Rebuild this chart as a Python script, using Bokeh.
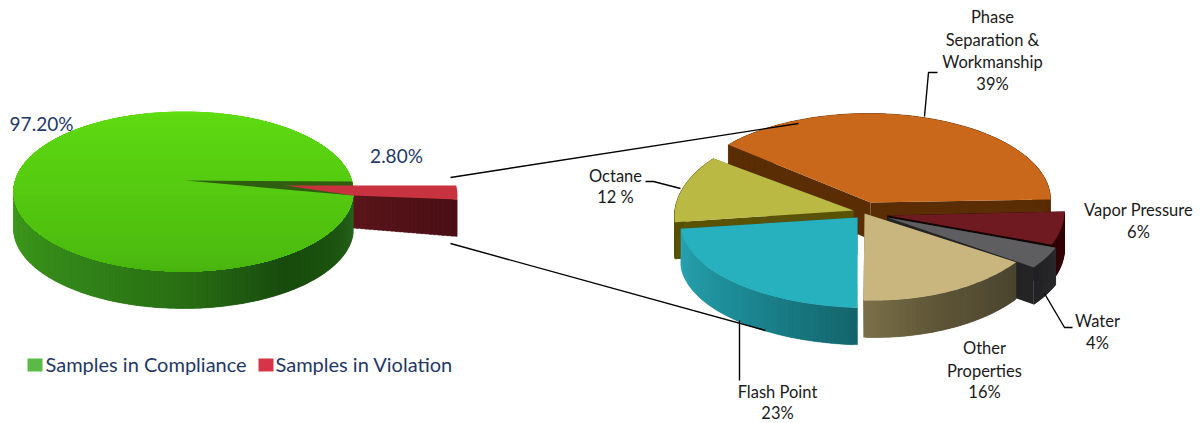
import numpy as np
from bokeh.plotting import figure
from bokeh.models import Range1d
from bokeh.core.properties import value
from bokeh.embed import file_html
from bokeh.resources import INLINE

# ---- data
overview_names = ["Samples in Compliance", "Samples in Violation"]
overview_share = [97.2, 2.8]
overview_labels = ["97.20%", "2.80%"]

detail_names = ["Phase Separation & Workmanship", "Vapor Pressure", "Water",
                "Other Properties", "Flash Point", "Octane"]
detail_share = [39, 6, 4, 16, 23, 12]

# ---- page coordinates: one data unit = one screenshot pixel
W, H = 1201, 423
p = figure(width=W, height=H, x_range=Range1d(0, W), y_range=Range1d(H, 0),
           x_axis_type=None, y_axis_type=None, toolbar_location=None,
           output_backend="svg", min_border=0, outline_line_color=None,
           background_fill_color="white", border_fill_color="white")
p.grid.visible = False
DEPTH = 37


def hex2rgb(c):
    return np.array([int(c[i:i + 2], 16) for i in (1, 3, 5)], float)


def ramp(stops, t):
    pos = [s[0] for s in stops]
    cols = np.array([hex2rgb(s[1]) for s in stops])
    v = [np.interp(t, pos, cols[:, k]) for k in range(3)]
    return "#%02x%02x%02x" % tuple(int(round(x)) for x in v)


def arc(g, a0, a1, n=60):
    t = np.radians(np.linspace(a0, a1, n))
    return g["c"][0] + g["r"][0] * np.cos(t), g["c"][1] - g["r"][1] * np.sin(t)


def poly(xs, ys, color, alpha=1.0):
    p.patch(list(xs), list(ys), fill_color=color, line_color=None, fill_alpha=alpha)


def wall(g, a0, a1, stops, n=40):
    """Outer rim of a slice, in short overlapping strips for the shading."""
    x, y = arc(g, a0, a1, n + 2)
    xs, ys, cs = [], [], []
    for i in range(n):
        xx, yy = x[i:i + 3], y[i:i + 3]
        xs.append(list(xx) + list(xx[::-1]))
        ys.append(list(yy) + list((yy + DEPTH)[::-1]))
        cs.append(ramp(stops, i / (n - 1)))
    p.patches(xs, ys, fill_color=cs, line_color=cs, line_width=0.3)


def cut_face(g, a, color):
    x, y = arc(g, a, a, 1)
    ax, ay = g["a"]
    poly([ax, x[0], x[0], ax], [ay, y[0], y[0] + DEPTH, ay + DEPTH], color)


# ---- overview pie
GREEN = {"a": (185, 180), "c": (183, 191), "r": (170, 80)}
RED = {"a": (285, 185), "c": (287, 195), "r": (170, 80)}
red_sweep = overview_share[1] * 3.6
red_hi = 7.2
red_lo = red_hi - red_sweep

# the pulled-out slice's cut face, behind the big slice
cut_x, cut_y = arc(RED, red_lo, red_lo, 1)
rx_, ry_ = RED["a"]
xs_, ys_, cs_ = [], [], []
for i in range(40):
    f0, f1 = 1 - (i + 1.6) / 40, 1 - i / 40
    x0, x1 = rx_ + (cut_x[0] - rx_) * max(f0, 0), rx_ + (cut_x[0] - rx_) * f1
    y0, y1 = ry_ + (cut_y[0] - ry_) * max(f0, 0), ry_ + (cut_y[0] - ry_) * f1
    xs_.append([x0, x1, x1, x0])
    ys_.append([y0, y1, y1 + DEPTH, y0 + DEPTH])
    cs_.append(ramp([(0, "#4a0f15"), (0.5, "#561419"), (1, "#6b1c24")], i / 39))
p.patches(xs_, ys_, fill_color=cs_, line_color=cs_, line_width=0.3)

wall(GREEN, 180, 360 + red_lo,
     [(0, "#409c1a"), (0.28, "#33861a"), (0.5, "#2a7014"),
      (0.72, "#184b0e"), (0.88, "#1d5510"), (1, "#2a6620")], n=140)

bands = 48
for k in range(bands):
    a_k = 90 - 180 * k / bands
    x, y = arc(GREEN, a_k, -180 - a_k, 120)
    poly(x, y, ramp([(0, "#60e012"), (0.45, "#56cc10"), (1, "#47b20e")], k / (bands - 1)))

# dark notch where the small slice was pulled away
x, y = arc(GREEN, red_hi, red_lo, 8)
poly([GREEN["a"][0], *x], [GREEN["a"][1], *y], "#2f5e10")

# top of pulled-out slice: it runs back to the big slice's lower cut corner
x, y = arc(RED, red_hi, red_lo, 6)
poly([rx_, *x, arc(GREEN, red_lo, red_lo, 1)[0][0]],
     [ry_, *y, arc(GREEN, red_lo, red_lo, 1)[1][0]], "#c9323f")

# ---- detail pie
angles = np.concatenate([[0.0], -np.cumsum(detail_share[1:]) * 3.6])
sl = {
    "Phase Separation & Workmanship": dict(a=(870, 202), c=(868, 199), r=(182, 86),
                                           span=(angles[-1] + 360, 0), top="#c9681a",
                                           wall=[(0, "#5a2d04"), (1, "#5a2d04")], face="#5a2d04"),
    "Vapor Pressure": dict(a=(887, 215), c=(882, 211), r=(182, 90), span=(angles[0], angles[1]),
                           top="#6e1a20", wall=[(0, "#3d060c"), (1, "#300408")], face="#120406"),
    "Water": dict(a=(887, 217), c=(886, 214), r=(182, 90), span=(angles[1], angles[2]),
                  top="#5e5e60", wall=[(0, "#2e2e30"), (1, "#242426")], face="#242424"),
    "Other Properties": dict(a=(864, 213), c=(874, 207), r=(175, 93), span=(angles[2], angles[3]),
                             top="#c9b67f", wall=[(0, "#4b4530"), (0.6, "#5f5638"), (1, "#7a6e48")],
                             face="#3a3524"),
    "Flash Point": dict(a=(857, 217), c=(869, 223), r=(189, 84.5), span=(angles[3], angles[4]),
                        top="#27b0bd", wall=[(0, "#14656d"), (0.5, "#1d8b95"), (1, "#2ba5b3")],
                        face="#116068"),
    "Octane": dict(a=(853, 210), c=(844, 216), r=(170, 91), span=(angles[4], angles[5]),
                   top="#b9b944", wall=[(0, "#5a5205"), (1, "#5a5205")], face="#5a5205"),
}
for name in ["Phase Separation & Workmanship", "Vapor Pressure", "Octane", "Water",
             "Other Properties", "Flash Point"]:
    g = sl[name]
    a0, a1 = g["span"]
    cut_face(g, a0, g["face"])
    cut_face(g, a1, g["face"])
    wall(g, a0, a1, g["wall"], n=60)
    x, y = arc(g, a0, a1, 60)
    poly([g["a"][0], *x], [g["a"][1], *y], g["top"])

# ---- leader lines
leaders_x = [[450, 798], [450, 765], [739, 739], [924, 928, 937], [1044, 1064, 1072], [645, 653, 680]]
leaders_y = [[177, 123], [243, 330], [320, 380], [116, 72, 72], [293, 327, 327], [181, 181, 188]]
p.multi_line(leaders_x, leaders_y, line_color="black", line_width=1.4)

# ---- texts
FONT = "Lato"
lab_x = [992, 992, 992, 992, 1138, 1138, 1097, 1097, 984, 984, 984, 777, 777, 615, 615]
lab_y = [16, 39, 61, 83, 209, 231, 320, 342, 347, 370, 391, 391, 412, 175, 196]
lab_t = ["Phase", "Separation &", "Workmanship", "39%", "Vapor Pressure", "6%",
         "Water", "4%", "Other", "Properties", "16%", "Flash Point", "23%", "Octane", "12 %"]
p.text(lab_x, lab_y, text=lab_t, text_font=value(FONT), text_font_size="16.5px",
       text_color="#1a1a1a", text_align="center", text_baseline="middle")

p.text([41, 396], [123, 155], text=overview_labels, text_font=value(FONT), text_font_size="19px",
       text_color="#1f3864", text_align="center", text_baseline="middle")

# ---- legend
p.quad(left=[27, 258], right=[42, 273], top=[358, 358], bottom=[371, 371],
       fill_color=["#5ab947", "#d63545"], line_color=None)
p.text([45, 275], [363, 363], text=overview_names, text_font=value(FONT), text_font_size="20px",
       text_color="#1f3864", text_align="left", text_baseline="middle")

open("out.html", "w").write(file_html(p, INLINE))
